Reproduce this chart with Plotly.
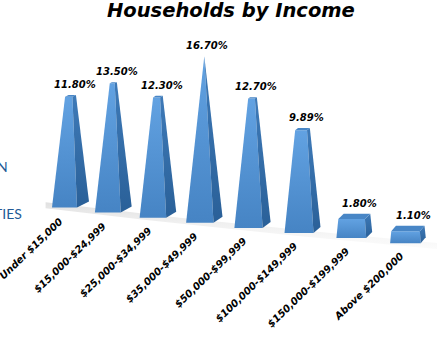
import plotly.graph_objects as go

# ---------------- data ----------------
categories = ["Under $15,000", "$15,000-$24,999", "$25,000-$34,999", "$35,000-$49,999",
              "$50,000-$99,999", "$100,000-$149,999", "$150,000-$199,999", "Above $200,000"]
shares = [11.80, 13.50, 12.30, 16.70, 12.70, 9.89, 1.80, 1.10]
value_labels = ["11.80%", "13.50%", "12.30%", "16.70%", "12.70%", "9.89%", "1.80%", "1.10%"]
title_text = "Households by Income"
source_text = "Source: 2012-2016 American Community Survey"
side_texts = ["N", "TIES"]

W, H = 437, 350
VMAX = max(shares)


# ---------------- pseudo-3D projection (category index, value, depth) ----------------
def proj(i, u, v, z):
    """i: category index, u: 0..1 across the front face, v: value (%), z: 0..1 depth."""
    left = 52 + 42 * i + 0.9 * i * i
    base = 207.5 + 5.1 * i
    front_w = 25 + 0.8 * i
    side_w = 12 - 1.0 * i
    per_pct = 9.2 + 0.2 * i
    depth_h = 6.0
    return left + u * front_w + z * side_w, base - v * per_pct - z * depth_h


def poly(i, pts):
    xs, ys = [], []
    for (u, v, z) in pts:
        x, y = proj(i, u, v, z)
        xs.append(x)
        ys.append(y)
    xs.append(xs[0])
    ys.append(ys[0])
    return xs, ys


fig = go.Figure()

# floor shadow band
n = 60
i0, i1 = -0.45, 8.2
fx_top, fy_top, fx_bot, fy_bot = [], [], [], []
for k in range(n + 1):
    ii = i0 + (i1 - i0) * k / n
    x, y = proj(ii, 0.5, 0, 0)
    fx_top.append(x)
    fy_top.append(y - 3)
    fx_bot.append(x)
    fy_bot.append(y + 3)
fig.add_trace(go.Scatter(
    x=fx_top + fx_bot[::-1], y=fy_top + fy_bot[::-1], mode="lines",
    fill="toself", line=dict(width=0),
    fillgradient=dict(type="vertical",
                      colorscale=[[0, "rgba(240,240,240,0.2)"], [1, "rgba(200,200,200,0.55)"]]),
    hoverinfo="skip", showlegend=False))

FRONT = [[0, "rgb(70,132,196)"], [1, "rgb(98,162,226)"]]
SIDE = [[0, "rgb(42,96,152)"], [1, "rgb(62,122,184)"]]
TOP = "rgb(72,134,198)"

for i, v in enumerate(shares):
    t = v / VMAX
    a, b = t / 2, 1 - t / 2
    fx, fy = poly(i, [(0, 0, 0), (1, 0, 0), (b, v, a), (a, v, a)])
    fig.add_trace(go.Scatter(x=fx, y=fy, mode="lines", fill="toself", line=dict(width=0),
                             fillgradient=dict(type="vertical", colorscale=FRONT),
                             hoverinfo="skip", showlegend=False))
    sx, sy = poly(i, [(1, 0, 0), (1, 0, 1), (b, v, b), (b, v, a)])
    fig.add_trace(go.Scatter(x=sx, y=sy, mode="lines", fill="toself", line=dict(width=0),
                             fillgradient=dict(type="vertical", colorscale=SIDE),
                             hoverinfo="skip", showlegend=False))
    if t < 0.99:
        tx, ty = poly(i, [(a, v, a), (b, v, a), (b, v, b), (a, v, b)])
        fig.add_trace(go.Scatter(x=tx, y=ty, mode="lines", fill="toself", line=dict(width=0),
                                 fillcolor=TOP, hoverinfo="skip", showlegend=False))

annotations = []
# value labels
for i, (v, lab) in enumerate(zip(shares, value_labels)):
    t = v / VMAX
    x, y = proj(i, 0.5, v, 1 - t / 2)
    annotations.append(dict(x=x + 3, y=y - 3, text="<b><i>" + lab + "</i></b>", showarrow=False,
                            xanchor="center", yanchor="bottom",
                            font=dict(family="DejaVu Sans", size=10, color="black")))
# category labels
for i, cat in enumerate(categories):
    x, y = proj(i, 0.5, 0, 0)
    annotations.append(dict(x=x + 3, y=y + 5, text="<b><i>" + cat + "</i></b>", showarrow=False,
                            textangle=-44, xanchor="right", yanchor="top",
                            font=dict(family="DejaVu Sans", size=10, color="black")))
# title
annotations.append(dict(x=231, y=10, text="<b><i>" + title_text + "</i></b>", showarrow=False,
                        xanchor="center", yanchor="middle",
                        font=dict(family="DejaVu Sans", size=19.5, color="black")))
# source
annotations.append(dict(x=-1, y=340, text=source_text, showarrow=False,
                        xanchor="left", yanchor="middle",
                        font=dict(family="Liberation Sans", size=8, color="rgb(60,60,60)")))
# clipped slide text on the left
annotations.append(dict(x=10, y=166, text=side_texts[0], showarrow=False,
                        xanchor="right", yanchor="middle",
                        font=dict(family="Lato", size=14, color="rgb(35,90,150)")))
annotations.append(dict(x=24, y=213, text=side_texts[1], showarrow=False,
                        xanchor="right", yanchor="middle",
                        font=dict(family="Lato", size=14, color="rgb(35,90,150)")))

fig.update_layout(
    width=W, height=H, margin=dict(l=0, r=0, t=0, b=0),
    paper_bgcolor="white", plot_bgcolor="white",
    xaxis=dict(range=[0, W], visible=False, fixedrange=True),
    yaxis=dict(range=[H, 0], visible=False, fixedrange=True),
    annotations=annotations, showlegend=False,
)

fig.write_html("out.html")
